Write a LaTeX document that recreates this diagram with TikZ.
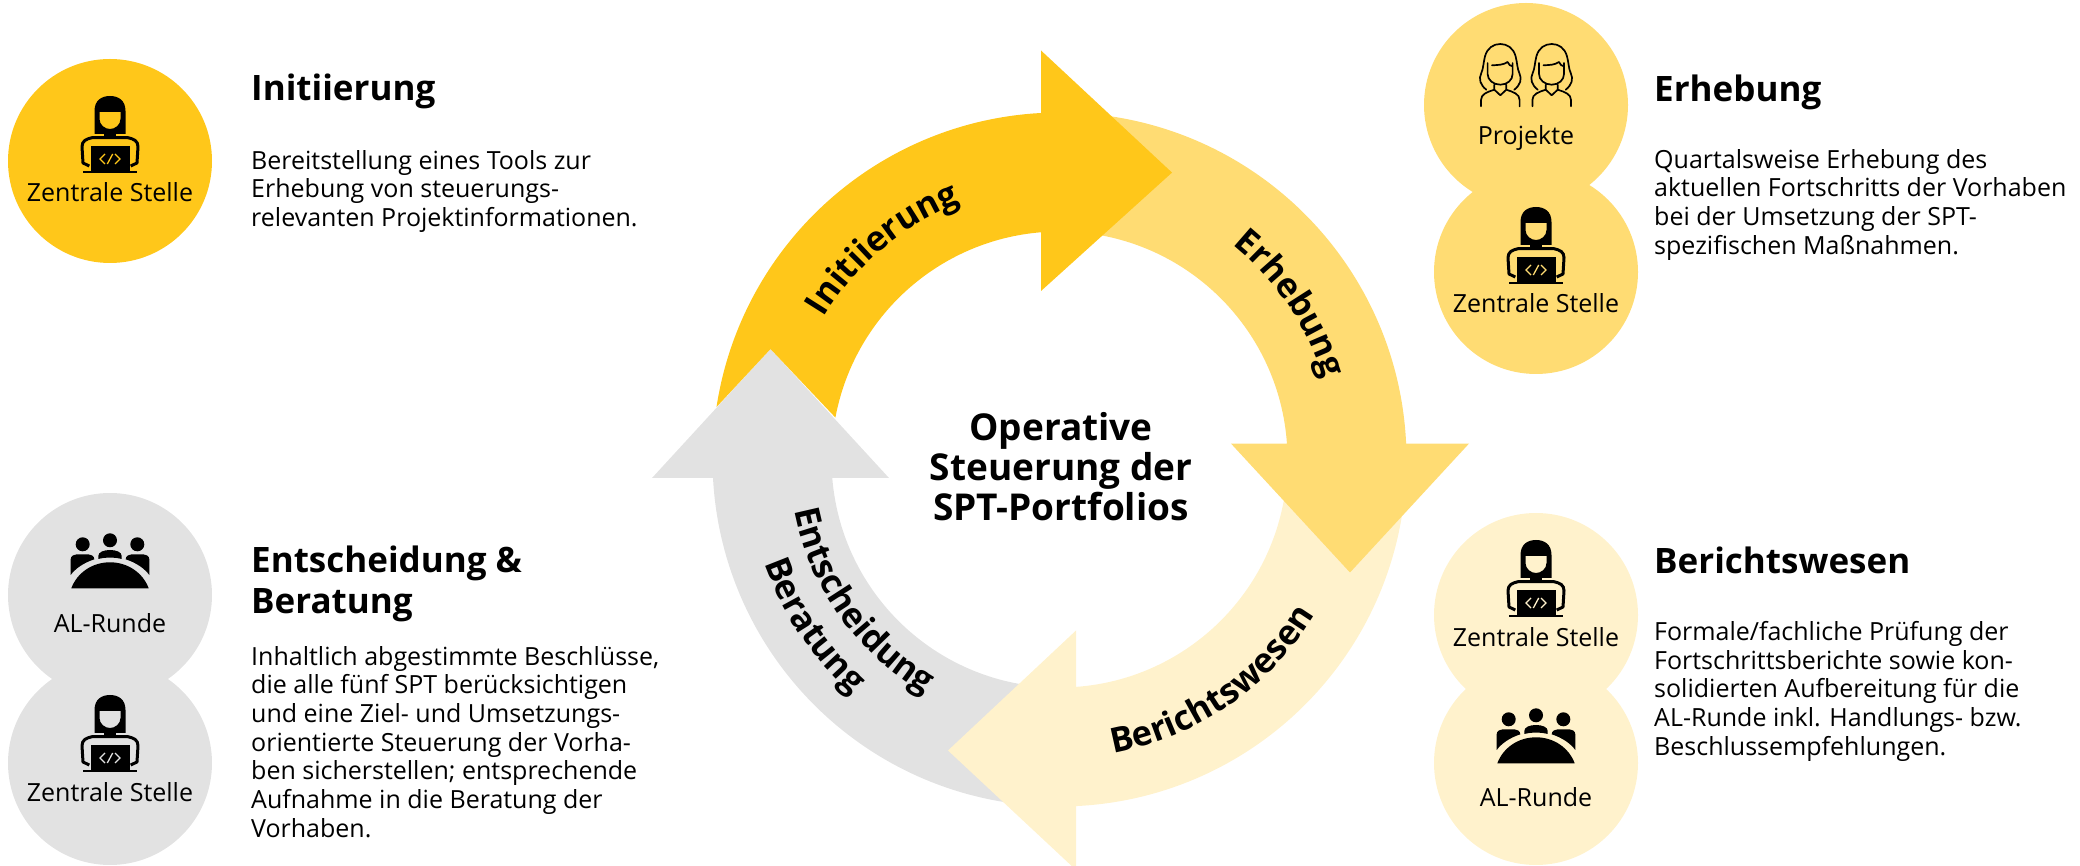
\documentclass[tikz,border=0pt]{standalone}
\usepackage{fontspec}
\setmainfont{Open Sans}
\usetikzlibrary{calc,decorations.text}

\definecolor{colInit}{HTML}{FFC71A}
\definecolor{colErhe}{HTML}{FFDC73}
\definecolor{colBeri}{HTML}{FFF2CC}
\definecolor{colEnts}{HTML}{E2E2E2}

\newcommand{\ringfont}{\fontsize{34.5}{38}\selectfont\bfseries}

\tikzset{
    bubble/.style={circle, minimum size=204pt, inner sep=0pt},
    roletext/.style={font=\fontsize{25}{28}\selectfont, inner sep=0pt},
    headtext/.style={font=\fontsize{35}{41}\selectfont\bfseries, inner sep=0pt, anchor=north west, align=left},
    bodytext/.style={font=\fontsize{25}{28.7}\selectfont, inner sep=0pt, anchor=north west, align=left},
    ringtext/.style={decorate, decoration={text along path, text align=center, text={|\ringfont|#1}}},
    pics/coder/.style={code={
        \fill[even odd rule] (-15.5,1) -- (-15.5,24) .. controls (-15.5,35) and (-8,39) .. (0,39) .. controls (8,39) and (15.5,35) .. (15.5,24) -- (15.5,1) -- cycle
            (-10.5,23) -- (10.5,23) -- (10.5,16) .. controls (10.5,10) and (5,6) .. (0,6) .. controls (-5,6) and (-10.5,10) .. (-10.5,16) -- cycle;
        \fill (-6,2) rectangle (6,-3);
        \draw[line width=3pt, line join=round] (-20.7,-31) -- (-27,-28) -- (-28,-11.7) .. controls (-28,-6) and (-24,-4) .. (-18,-2.7) -- (18,-2.7) .. controls (24,-4) and (28,-6) .. (28,-11.7) -- (27,-28) -- (20.7,-31);
        \fill (-19.5,-11) rectangle (19.5,-35.7);
        \fill (-26.7,-35.7) rectangle (26.7,-38.3);
        \draw[#1, line width=1.3pt] (-5,-19) -- (-10,-24) -- (-5,-29) (5,-19) -- (10,-24) -- (5,-29) (-2.7,-29) -- (2.7,-19);
    }},
    pics/group/.style={code={
        \fill (-38.7,-23.3) .. controls (-33,-8) and (-18,2.7) .. (0,2.7) .. controls (18,2.7) and (33,-8) .. (38.7,-23.3) -- cycle;
        \fill (0,24.7) circle (7);
        \fill (-11.7,6) -- (-11.7,9) .. controls (-11.7,13) and (-6,15) .. (0,15) .. controls (6,15) and (11.7,13) .. (11.7,9) -- (11.7,6) .. controls (4,8) and (-4,8) .. (-11.7,6) -- cycle;
        \foreach \s in {-1,1} {
            \fill (\s*27.3,20.7) circle (7);
            \fill[xscale=\s] (-39.3,-10) -- (-39.3,5.7) .. controls (-39.3,9) and (-36,10.7) .. (-33.3,10.7) -- (-21.7,10.7) .. controls (-19,10.7) and (-15.7,9) .. (-15.7,5.7) .. controls (-27,2) and (-35,-4) .. (-39.3,-10) -- cycle;
        }
    }},
    pics/woman/.style={code={
        \draw[line width=1.7pt, line cap=round, line join=round]
            (-14,-14.7) .. controls (-20,-10) and (-22,-4) .. (-19,2) .. controls (-17,6) and (-17,12) .. (-15.3,18.7) .. controls (-13,27) and (-7,31) .. (0,31) .. controls (7,31) and (13,27) .. (15.3,18.7) .. controls (17,12) and (17,6) .. (19,2) .. controls (22,-4) and (20,-10) .. (14,-14.7)
            (-12.7,12) -- (-12.7,1) .. controls (-12.7,-5) and (-7,-9.7) .. (0,-9.7) .. controls (7,-9.7) and (12.3,-5) .. (12.3,1) -- (12.3,12)
            (-8.3,9.7) .. controls (-2,10) and (3,10) .. (7.3,13) .. controls (8.5,10) and (10,9) .. (12.3,8.7)
            (-6,-9.7) -- (-6,-14.7) -- (0,-20.3) -- (6,-14.7) -- (6,-9.7)
            (-19.3,-31.3) -- (-19.3,-25) .. controls (-19.3,-19) and (-13,-17) .. (-6,-14.7)
            (19.3,-31.3) -- (19.3,-25) .. controls (19.3,-19) and (13,-17) .. (6,-14.7);
    }},
}

\begin{document}
\begin{tikzpicture}[x=1pt, y=1pt]
    \useasboundingbox (0,0) rectangle (2080,865);
    \coordinate (ring) at (1059.5,405.5);

    % ring of four arrows
    \fill[colEnts] (ring) ++(262:347) arc[start angle=262, end angle=183.05, radius=347] -- (652,387) -- (770.5,516) -- (889,387) -- ($(ring)+(184.65:228)$) arc[start angle=184.65, end angle=262, radius=228] -- cycle;
    \fill[colBeri] (ring) ++(-8:347) arc[start angle=-8, end angle=-87.27, radius=347] -- (1076,-5) -- (948,114.5) -- (1076,234.5) -- ($(ring)+(-85.85:228)$) arc[start angle=-85.85, end angle=-8, radius=228] -- cycle;
    \fill[colErhe] (ring) ++(82:347) arc[start angle=82, end angle=2.63, radius=347] -- (1469,421.4) -- (1350,292.5) -- (1231,421.4) -- ($(ring)+(4:228)$) arc[start angle=4, end angle=82, radius=228] -- cycle;
    \fill[colInit] (ring) ++(171.3:347) arc[start angle=171.3, end angle=93.05, radius=347] -- (1041,814.5) -- (1172,692.4) -- (1041,574) -- ($(ring)+(94.65:228)$) arc[start angle=94.65, end angle=169.4, radius=228] -- (770.5,516) -- cycle;

    \path[ringtext=Initiierung] (ring) ++(170:275) arc[start angle=170, end angle=90, radius=275];
    \path[ringtext=Erhebung] (ring) ++(74:276) arc[start angle=74, end angle=-6, radius=276];
    \path[ringtext=Berichtswesen] (ring) ++(-95.5:299) arc[start angle=-95.5, end angle=-15.5, radius=299];
    \path[ringtext=Entscheidung] (ring) ++(175.6:270) arc[start angle=175.6, end angle=255.6, radius=270];
    \path[ringtext=Beratung] (ring) ++(174:313) arc[start angle=174, end angle=254, radius=313];
    \node[font=\fontsize{37}{40}\selectfont\bfseries, align=center, inner sep=0pt] (title) at (1061,398) {Operative\\Steuerung der\\SPT-Portfolios};

    % left side
    \node[bubble, fill=colInit] (zsInit) at (110,704) {};
    \pic at ([yshift=26pt]zsInit) {coder=colInit};
    \node[roletext, anchor=base] (zsInitText) at ([yshift=-41pt]zsInit) {Zentrale Stelle};
    \node[headtext] (initHead) at (251,791) {Initiierung};
    \node[bodytext] (initBody) at (251,715) {Bereitstellung eines Tools zur\\Erhebung von steuerungs-\\relevanten Projektinformationen.};

    \node[bubble, fill=colEnts] (alEnts) at (110,270) {};
    \node[bubble, fill=colEnts] (zsEnts) at (110,102) {};
    \pic at ([yshift=30pt]alEnts) {group};
    \node[roletext, anchor=base] (alEntsText) at ([yshift=-38pt]alEnts) {AL-Runde};
    \pic at ([yshift=29pt]zsEnts) {coder=colEnts};
    \node[roletext, anchor=base] (zsEntsText) at ([yshift=-38pt]zsEnts) {Zentrale Stelle};
    \node[headtext] (entsHead) at (251,319) {Entscheidung \&\\Beratung};
    \node[bodytext] (entsBody) at (251,219) {Inhaltlich abgestimmte Beschlüsse,\\die alle fünf SPT berücksichtigen\\und eine Ziel- und Umsetzungs-\\orientierte Steuerung der Vorha-\\ben sicherstellen; entsprechende\\Aufnahme in die Beratung der\\Vorhaben.};

    % right side
    \node[bubble, fill=colErhe] (prErhe) at (1526,760) {};
    \node[bubble, fill=colErhe] (zsErhe) at (1536,593) {};
    \pic at ([xshift=-25.7pt, yshift=30pt]prErhe) {woman};
    \pic at ([xshift=25.7pt, yshift=30pt]prErhe) {woman};
    \node[roletext, anchor=base] (prErheText) at ([yshift=-40pt]prErhe) {Projekte};
    \pic at ([yshift=26pt]zsErhe) {coder=colErhe};
    \node[roletext, anchor=base] (zsErheText) at ([yshift=-41pt]zsErhe) {Zentrale Stelle};
    \node[headtext] (erheHead) at (1654,790) {Erhebung};
    \node[bodytext] (erheBody) at (1654,716) {Quartalsweise Erhebung des\\aktuellen Fortschritts der Vorhaben\\bei der Umsetzung der SPT-\\spezifischen Maßnahmen.};

    \node[bubble, fill=colBeri] (zsBeri) at (1536,250) {};
    \node[bubble, fill=colBeri] (alBeri) at (1536,102) {};
    \pic at ([yshift=36pt]zsBeri) {coder=colBeri};
    \node[roletext, anchor=base] (zsBeriText) at ([yshift=-32pt]zsBeri) {Zentrale Stelle};
    \pic at ([yshift=23pt]alBeri) {group};
    \node[roletext, anchor=base] (alBeriText) at ([yshift=-43pt]alBeri) {AL-Runde};
    \node[headtext] (beriHead) at (1654,318) {Berichtswesen};
    \node[bodytext] (beriBody) at (1654,244) {Formale/fachliche Prüfung der\\Fortschrittsberichte sowie kon-\\solidierten Aufbereitung für die\\AL-Runde inkl. Handlungs- bzw.\\Beschlussempfehlungen.};
\end{tikzpicture}
\end{document}
